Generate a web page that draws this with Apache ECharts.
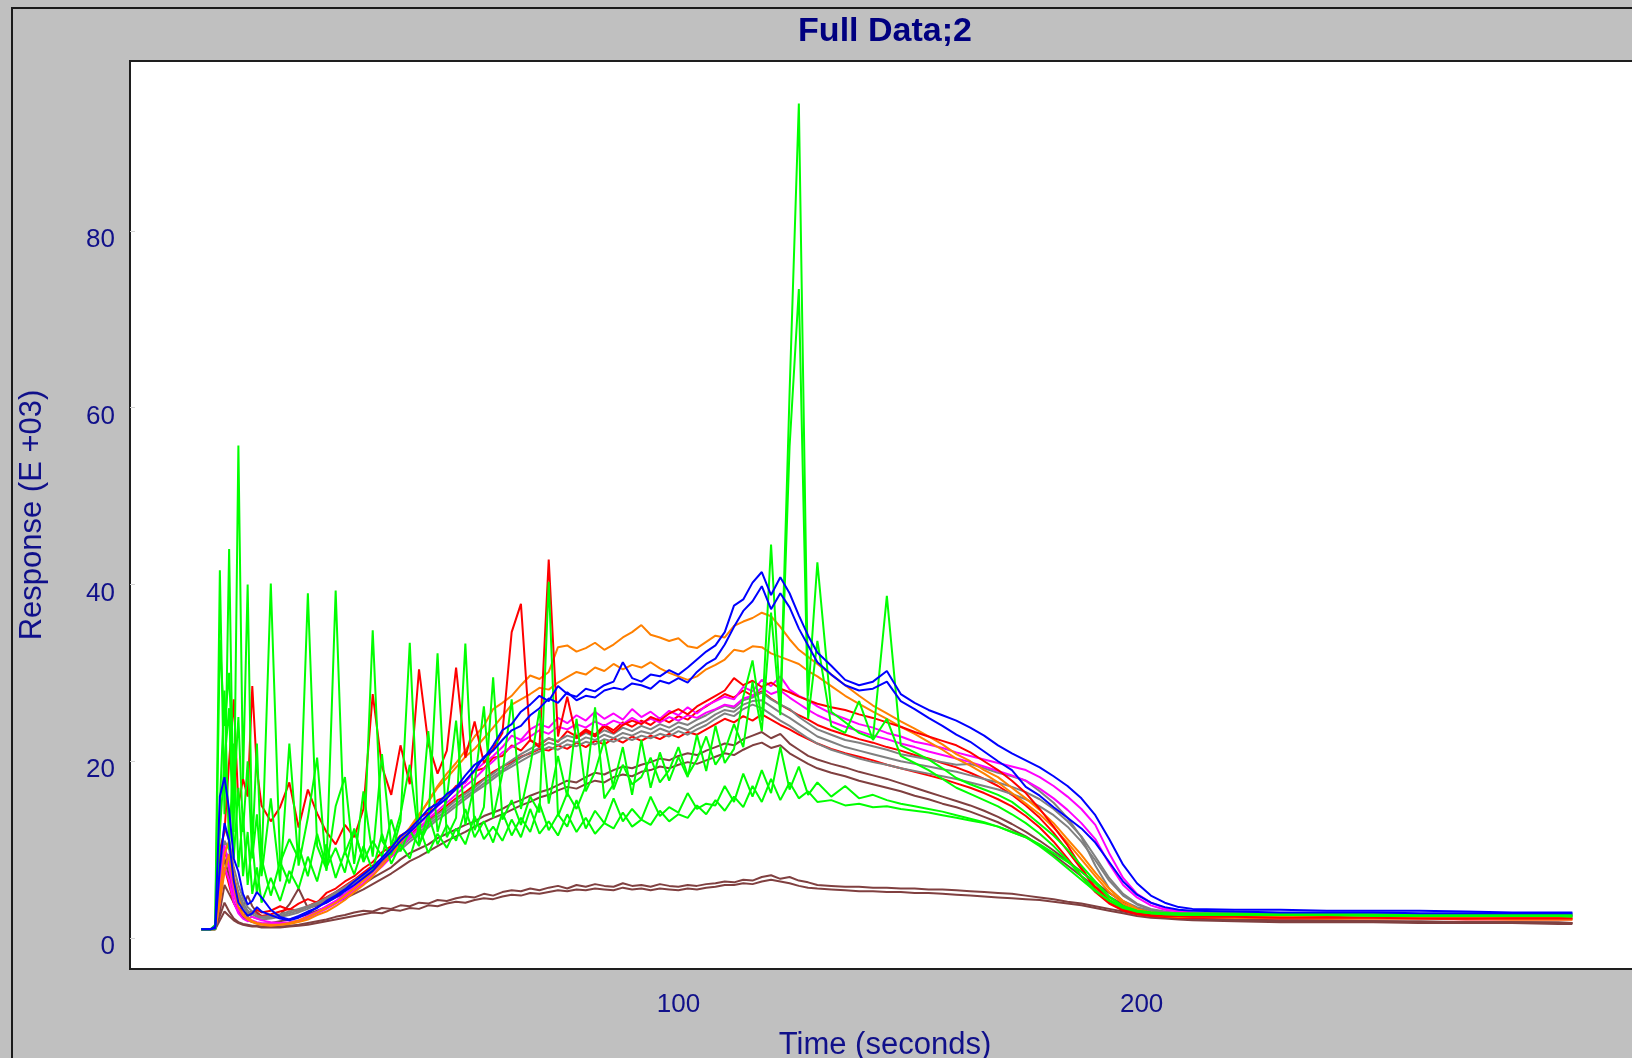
<!DOCTYPE html>
<html>
<head>
<meta charset="utf-8">
<title>Full Data;2</title>
<script src="https://cdn.jsdelivr.net/npm/echarts@6/dist/echarts.min.js"></script>
<style>
  html, body { margin: 0; padding: 0; background: #c0c0c0; }
  #chart { width: 1632px; height: 1058px; }
</style>
</head>
<body>
<div id="chart"></div>
<script>
// Sample times (seconds), shared by every trace
const times = [-3,-1,0,1,2,3,4,5,6,7,8,9,10,
  12,14,16,18,20,22,24,26,28,30,
  32,34,36,38,40,42,44,46,48,50,
  52,54,56,58,60,62,64,66,68,70,
  72,74,76,78,80,82,84,86,88,90,
  92,94,96,98,100,102,104,106,108,110,
  112,114,116,118,120,122,124,126,128,130,
  133,136,139,142,145,148,151,154,157,160,
  163,166,169,172,175,178,181,184,187,190,
  193,196,199,202,205,208,211,
  220,230,240,250,260,270,280,290,293];

// Responses (E +03)
const brownLow1 = [1.0,1.0,1.0,2.5,4,3,2.2,1.8,1.6,1.5,1.4,1.4,1.3,
  1.3,1.3,1.4,1.5,1.7,1.9,2.1,2.4,2.6,2.9,
  3.1,3.0,3.4,3.3,3.7,3.6,4.0,3.9,4.3,4.2,
  4.5,4.7,4.6,5.0,4.8,5.2,5.4,5.3,5.6,5.4,
  5.7,5.9,5.6,6.0,5.8,6.1,5.9,5.8,6.2,5.9,
  6.0,5.8,6.1,5.9,5.8,6.0,5.9,6.1,6.2,6.4,
  6.3,6.6,6.5,6.9,7.1,6.7,6.9,6.5,6.3,6.0,
  5.9,5.8,5.8,5.7,5.7,5.6,5.6,5.5,5.5,5.4,
  5.3,5.2,5.1,5.0,4.8,4.6,4.4,4.1,3.9,3.6,
  3.3,3.0,2.7,2.5,2.3,2.2,2.1,
  2.0,1.9,1.9,1.9,1.8,1.8,1.8,1.7,1.7];

const brownLow2 = [1.0,1.0,1.0,2,3,2.5,2.0,1.7,1.5,1.4,1.3,1.3,1.2,
  1.2,1.2,1.3,1.4,1.5,1.7,1.9,2.1,2.3,2.5,
  2.7,2.9,2.8,3.2,3.1,3.4,3.3,3.7,3.6,3.9,
  4.1,4.0,4.3,4.5,4.4,4.7,4.9,4.8,5.1,5.0,
  5.2,5.4,5.3,5.5,5.4,5.6,5.5,5.4,5.7,5.5,
  5.6,5.4,5.6,5.5,5.4,5.6,5.5,5.7,5.8,6.0,
  6.0,6.2,6.1,6.4,6.6,6.4,6.2,5.9,5.7,5.6,
  5.5,5.4,5.3,5.3,5.2,5.2,5.1,5.1,5.0,4.9,
  4.8,4.7,4.6,4.5,4.4,4.3,4.1,3.9,3.7,3.4,
  3.1,2.8,2.5,2.3,2.2,2.1,2.0,
  1.9,1.8,1.8,1.8,1.7,1.7,1.7,1.6,1.6];

const brownMid1 = [1.0,1.0,1.1,5,9,7,5,4,3.5,4.8,3.6,2.9,2.5,
  2.4,2.6,3.8,5.6,3.4,3.7,4.0,4.6,5.0,5.5,
  6.1,6.8,7.4,8.0,8.9,9.6,10.1,10.6,11.3,11.8,
  12.3,12.8,13.2,13.8,14.2,14.6,15.2,15.6,16.1,16.5,
  16.8,17.3,17.8,17.6,18.2,18.7,18.5,19.0,19.4,19.2,
  19.6,19.9,20.3,20.1,20.6,20.9,20.7,21.2,21.6,22.0,
  21.8,22.5,22.9,23.3,22.6,23.1,22.0,21.3,20.6,20.2,
  19.7,19.3,18.8,18.4,18.0,17.5,17.0,16.5,16.0,15.5,
  15.0,14.4,13.7,12.9,12.0,11.0,9.9,8.7,7.5,6.3,
  5.1,4.1,3.4,2.9,2.6,2.4,2.2,
  2.1,2.0,2.0,1.9,1.9,1.8,1.8,1.8,1.7];

const brownMid2 = [1.0,1.0,1.0,3,6,5,4,3,2.4,2.0,1.8,1.7,1.6,
  1.7,1.9,2.1,2.4,2.7,3.1,3.5,4.0,4.5,5.0,
  5.5,6.1,6.7,7.3,8.0,8.7,9.2,9.8,10.4,11.0,
  11.5,12.0,12.6,13.1,13.6,14.0,14.5,15.0,15.4,15.9,
  16.2,16.7,17.1,16.9,17.4,17.8,17.6,18.2,18.5,18.3,
  18.8,19.0,19.4,19.2,19.6,19.9,19.7,20.1,20.5,20.9,
  20.7,21.3,21.8,22.1,21.5,21.8,20.9,20.3,19.7,19.2,
  18.7,18.3,17.8,17.4,17.0,16.6,16.1,15.7,15.2,14.8,
  14.3,13.7,13.1,12.3,11.5,10.5,9.4,8.2,7.0,5.8,
  4.7,3.8,3.1,2.7,2.4,2.2,2.1,
  2.0,1.9,1.9,1.9,1.8,1.8,1.8,1.7,1.7];

const red1 = [1.0,1.0,1.3,10,12,20,27,15,18,16,28.5,19,15,
  13.2,14.8,17.6,12.5,16.8,14.1,12.0,10.6,12.8,11.4,
  14.6,27.6,19.4,16.2,21.8,17.4,30.4,22.0,18.6,21.2,
  30.6,20.4,24.5,19.8,21.4,23.2,34.6,37.8,22.4,21.6,
  42.8,22.8,27.3,22.6,23.4,22.8,23.9,23.2,24.1,24.6,
  24.2,25.0,24.6,25.4,25.9,25.3,26.2,26.8,27.4,28.0,
  29.4,28.6,29.1,28.4,28.9,28.2,27.8,27.3,26.9,26.5,
  26.1,25.8,25.3,24.9,24.4,23.9,23.3,22.8,22.3,21.8,
  21.0,20.0,19.0,17.8,16.4,14.6,12.6,10.5,8.0,5.5,
  4.0,3.2,2.8,2.6,2.5,2.5,2.4,
  2.4,2.3,2.3,2.3,2.2,2.2,2.2,2.2,2.2];

const red2 = [1.0,1.0,1.1,5,8,6,4,3,2.6,2.8,3.0,2.7,2.5,
  2.7,3.0,3.3,3.1,3.6,4.1,4.6,5.2,5.9,6.6,
  7.4,8.2,9.0,9.9,10.8,11.7,12.5,13.3,14.1,15.0,
  15.8,16.5,17.3,18.0,18.8,19.4,19.9,20.5,20.9,21.4,
  21.2,21.8,21.4,22.1,21.6,22.3,21.9,22.6,22.1,22.8,
  22.3,22.9,22.5,23.1,22.7,23.3,23.0,23.6,24.2,24.8,
  24.4,25.1,24.6,25.3,24.7,24.1,23.6,23.0,22.5,22.0,
  21.4,20.9,20.5,20.1,19.6,19.2,18.8,18.4,18.0,17.5,
  17.0,16.4,15.7,14.9,13.8,12.5,10.9,9.0,7.0,5.2,
  3.9,3.1,2.7,2.5,2.4,2.3,2.3,
  2.3,2.2,2.2,2.2,2.2,2.1,2.1,2.1,2.1];

const red3 = [1.0,1.0,1.2,7,10,8,5,3.5,3.0,2.6,2.8,3.2,2.9,
  3.1,3.6,3.2,3.9,4.4,4.0,5.1,5.6,6.4,7.0,
  7.9,8.6,9.7,10.4,11.6,12.2,13.6,14.2,15.6,16.0,
  17.2,17.6,18.9,19.2,20.4,20.6,21.8,21.2,22.4,21.8,
  22.6,22.2,23.4,22.8,23.6,23.0,24.1,23.5,24.4,23.9,
  24.6,24.1,24.9,24.4,25.1,24.7,25.6,26.2,26.9,27.6,
  27.2,28.0,27.4,27.9,27.1,26.4,25.8,25.2,24.7,24.1,
  23.5,23.0,22.5,22.1,21.6,21.2,20.7,20.3,19.8,19.3,
  18.7,18.0,17.2,16.2,15.0,13.6,11.9,9.9,7.8,5.8,
  4.3,3.4,2.9,2.7,2.6,2.5,2.5,
  2.4,2.4,2.4,2.3,2.3,2.3,2.3,2.3,2.3];

const gray1 = [1.0,1.0,1.2,9,12.6,11,8,6,4.5,3.5,3.0,2.6,2.4,
  2.5,2.7,3.0,3.3,3.6,4.0,4.5,5.2,5.8,6.5,
  7.2,8.0,8.9,9.7,10.6,11.5,12.3,13.1,14.0,14.7,
  15.6,16.3,17.0,17.9,18.6,19.4,20.1,20.8,21.4,22.0,
  22.6,22.3,22.9,22.6,23.2,22.8,23.5,23.1,23.8,23.4,
  24.0,23.6,24.2,23.8,24.4,24.1,24.7,25.2,25.8,26.3,
  26.0,26.9,27.2,27.8,27.0,26.4,25.9,25.0,24.3,23.6,
  23.0,22.4,22.1,21.7,21.3,20.8,20.5,20.2,19.9,19.6,
  19.7,19.2,18.7,18.3,17.8,16.6,15.3,13.6,11.4,8.2,
  5.6,4.2,3.5,3.1,2.9,2.8,2.8,
  2.8,2.8,2.8,2.8,2.7,2.7,2.7,2.7,2.7];

const gray2 = [1.0,1.0,1.1,6,10,9,6.5,4.8,3.6,2.8,2.4,2.2,2.1,
  2.2,2.4,2.6,2.9,3.3,3.8,4.3,4.9,5.5,6.2,
  6.9,7.6,8.4,9.2,10.0,10.9,11.7,12.5,13.4,14.1,
  14.9,15.7,16.5,17.2,18.0,18.8,19.4,20.0,20.6,21.1,
  21.6,21.3,21.9,21.7,22.2,21.9,22.5,22.2,22.7,22.4,
  22.9,22.6,23.1,22.8,23.4,23.0,23.6,24.1,24.8,25.4,
  25.1,25.9,26.4,26.0,25.3,24.6,24.0,23.3,22.6,22.0,
  21.3,20.8,20.3,19.9,19.6,19.2,18.9,18.6,18.3,18.0,
  17.6,17.2,16.8,16.3,15.7,14.9,13.9,12.6,10.9,8.8,
  6.5,4.8,3.8,3.2,2.9,2.8,2.7,
  2.7,2.7,2.7,2.7,2.7,2.6,2.6,2.6,2.6];

const gray3 = [1.0,1.0,1.1,7,11,10,7,5.2,4.0,3.1,2.7,2.4,2.3,
  2.3,2.5,2.8,3.1,3.5,3.9,4.4,5.0,5.6,6.3,
  7.0,7.8,8.6,9.5,10.3,11.2,12.0,12.8,13.7,14.4,
  15.2,16.0,16.7,17.5,18.3,19.0,19.7,20.4,21.0,21.5,
  22.1,21.8,22.4,22.1,22.7,22.4,23.0,22.6,23.2,22.9,
  23.4,23.1,23.7,23.3,23.9,23.5,24.1,24.6,25.3,25.8,
  25.6,26.4,26.8,26.9,26.2,25.5,24.9,24.2,23.5,22.8,
  22.2,21.6,21.2,20.8,20.4,20.0,19.7,19.4,19.1,18.8,
  18.4,18.0,17.6,17.1,16.5,15.7,14.6,13.2,11.5,9.2,
  6.8,5.0,3.9,3.3,3.0,2.8,2.7,
  2.7,2.7,2.7,2.7,2.7,2.6,2.6,2.6,2.6];

const magenta1 = [1.0,1.0,1.1,6,10.5,8,5,3.2,2.6,2.2,2.4,2.2,2.0,
  1.8,1.7,1.8,2.0,2.5,3.0,3.6,4.2,5.0,5.8,
  6.6,7.5,8.5,9.6,10.8,11.8,12.9,13.8,14.9,15.9,
  16.8,17.6,18.9,19.8,20.6,21.6,22.9,22.4,23.6,24.2,
  23.8,24.9,24.3,25.2,24.6,25.6,24.8,25.4,24.7,25.9,
  25.0,25.6,24.8,25.7,25.2,26.1,25.4,26.3,26.8,27.3,
  27.0,28.4,27.9,29.2,28.5,29.6,28.1,27.4,26.9,26.2,
  25.4,24.8,24.2,23.8,23.2,22.8,22.2,21.9,21.5,21.0,
  20.6,20.2,19.8,19.4,19.0,18.2,17.2,16.0,14.6,12.8,
  9.6,6.8,5.0,4.0,3.4,3.1,2.9,
  2.8,2.8,2.7,2.7,2.7,2.7,2.6,2.6,2.6];

const magenta2 = [1.0,1.0,1.0,4,8,6.5,4,2.8,2.2,1.9,2.0,1.8,1.7,
  1.6,1.6,1.7,1.9,2.3,2.8,3.3,3.9,4.6,5.4,
  6.2,7.2,8.1,9.2,10.3,11.4,12.4,13.5,14.4,15.3,
  16.2,17.2,18.0,19.1,20.0,21.0,21.6,22.2,22.8,23.5,
  23.1,23.9,23.6,24.2,23.8,24.5,24.0,24.6,24.2,24.9,
  24.3,24.8,24.4,25.0,24.6,25.2,24.9,25.5,25.9,26.4,
  26.2,27.1,27.4,28.3,27.6,28.0,27.2,26.5,25.8,25.2,
  24.5,23.9,23.4,22.9,22.5,22.0,21.6,21.1,20.7,20.3,
  19.9,19.4,18.9,18.4,17.8,16.9,15.8,14.5,13.0,11.2,
  8.4,6.0,4.6,3.7,3.2,3.0,2.8,
  2.7,2.7,2.7,2.6,2.6,2.6,2.6,2.5,2.5];

const orange1 = [1.0,1.0,1.1,5,9.5,11,7,4.5,3.0,2.4,1.9,1.7,1.6,
  1.5,1.5,1.6,1.8,2.1,2.6,3.0,3.6,4.3,5.2,
  6.0,7.0,8.2,9.4,10.8,12.2,13.8,15.5,17.2,18.6,
  19.8,21.2,22.8,24.0,25.9,26.6,27.4,28.6,29.7,29.3,
  30.1,32.9,33.1,32.4,32.8,33.4,32.6,33.2,34.0,34.6,
  35.4,34.3,34.0,33.6,33.9,33.0,32.8,33.5,34.2,34.0,
  35.3,35.8,36.2,36.8,36.4,35.2,33.8,32.6,31.8,31.0,
  29.8,28.6,27.4,26.3,25.4,24.5,23.7,22.8,21.9,20.8,
  20.0,19.0,18.2,17.0,15.8,14.5,13.0,11.2,9.4,7.4,
  5.6,4.2,3.3,2.9,2.7,2.6,2.5,
  2.4,2.4,2.3,2.3,2.3,2.3,2.2,2.2,2.2];

const orange2 = [1.0,1.0,1.0,4,7.5,9.5,6,3.5,2.6,2.1,1.8,1.6,1.5,
  1.4,1.5,1.7,2.0,2.4,2.9,3.4,4.0,4.8,5.6,
  6.5,7.5,8.6,9.8,11.2,12.5,14.0,15.4,17.0,18.1,
  19.3,20.5,21.4,22.6,23.8,25.1,26.4,27.0,27.6,28.3,
  28.1,28.9,29.5,30.1,29.8,30.6,30.2,31.0,30.4,30.9,
  30.6,31.2,30.5,30.0,29.6,29.2,29.6,30.4,30.9,31.5,
  32.6,32.4,33.0,32.9,32.2,31.8,31.4,31.0,30.2,29.6,
  28.5,27.4,26.5,25.6,24.8,23.9,23.1,22.2,21.3,20.3,
  19.5,18.6,17.6,16.4,15.2,14.0,12.5,10.8,8.9,7.0,
  5.2,3.9,3.1,2.7,2.5,2.4,2.4,
  2.3,2.3,2.2,2.2,2.2,2.2,2.1,2.1,2.1];

const blue1 = [1.0,1.0,1.3,16,18.2,14.5,9,7.5,5,3.8,4.2,5.2,4.6,
  3.2,2.4,2.1,2.5,3.0,3.4,4.2,4.8,5.5,6.4,
  7.2,8.0,9.1,10.2,11.5,12.3,13.4,14.6,15.2,16.3,
  17.0,18.4,19.6,20.3,21.8,23.5,24.2,25.6,26.4,27.4,
  26.8,28.5,27.6,27.3,28.2,27.9,28.6,29.0,31.2,29.4,
  29.0,29.8,29.6,30.3,29.8,30.6,31.5,32.4,33.1,34.6,
  37.6,38.3,40.2,41.4,38.8,40.8,39.0,36.5,34.2,32.3,
  30.8,29.2,28.6,29.0,30.2,27.6,26.6,25.8,25.2,24.6,
  23.8,22.9,21.8,20.9,20.1,19.3,18.3,17.2,15.8,13.9,
  11.2,8.3,6.2,4.8,4.0,3.5,3.3,
  3.2,3.2,3.1,3.1,3.1,3.0,2.9,2.9,2.9];

const blue2 = [1.0,1.0,1.1,8,13,11,6.5,4,3.2,2.5,2.8,3.5,3.0,
  2.6,2.2,2.0,2.3,2.8,3.5,4.0,4.6,5.3,6.0,
  6.8,7.6,8.8,9.8,11.0,12.0,13.0,14.0,15.0,15.8,
  16.9,17.8,19.0,20.5,21.2,22.4,23.5,24.0,25.2,26.0,
  27.1,26.6,27.8,26.9,27.4,27.2,28.0,28.3,28.1,28.8,
  28.6,28.2,29.1,28.8,29.4,28.9,30.1,31.0,31.6,33.2,
  35.2,37.0,38.1,39.8,37.2,39.0,37.4,35.0,33.1,31.2,
  29.8,28.6,28.0,28.2,29.0,26.8,25.9,24.9,24.0,23.0,
  22.2,21.1,20.0,19.0,17.1,16.1,14.8,13.6,12.4,10.8,
  8.6,6.4,4.9,4.0,3.5,3.2,3.1,
  3.0,2.9,2.9,2.9,2.8,2.8,2.8,2.8,2.8];

const green1 = [1.0,1.0,1.5,41.6,14,44,12,55.7,18,40,10,22,8,
  40.1,8.5,11.2,9.0,39.0,10.4,7.8,39.3,9.6,12.2,
  8.8,34.8,11.0,9.4,13.2,33.4,10.6,12.8,32.2,11.4,
  13.6,33.3,12.2,14.8,29.5,13.4,15.6,12.8,16.0,14.2,
  40.3,13.8,16.4,14.6,17.2,26.1,15.8,17.4,21.6,16.2,
  22.4,17.0,21.0,17.8,20.5,18.2,23.0,18.9,24.0,19.8,
  21.4,27.3,31.4,24.6,44.5,26.0,61.7,94.4,27.4,42.5,
  25.6,24.4,23.2,22.6,38.7,21.8,21.0,20.2,19.2,18.1,
  17.4,16.8,16.2,15.4,14.2,12.9,11.6,10.0,8.2,6.4,
  4.7,3.6,3.1,2.9,2.8,2.8,2.8,
  2.8,2.8,2.8,2.7,2.7,2.7,2.7,2.7,2.7];

const green2 = [1.0,1.0,1.2,33.7,24,30,16,25,12,20,9,14,7,
  15.8,6.4,22.0,8.2,13.6,20.4,7.6,14.9,18.2,8.4,
  16.6,9.2,20.8,10.4,14.0,19.6,11.2,23.4,12.0,15.8,
  24.6,12.8,17.4,26.2,13.6,18.6,27.0,14.6,19.4,25.8,
  15.2,20.6,16.0,24.8,16.6,18.8,22.4,16.8,19.6,17.4,
  18.2,20.4,17.6,19.0,21.6,18.4,20.2,22.8,19.6,21.2,
  24.2,21.6,29.0,23.4,36.8,25.2,55.6,73.4,24.8,33.6,
  24.0,23.2,26.8,22.4,24.8,20.6,19.8,19.0,18.0,17.0,
  16.3,15.6,14.9,14.0,13.0,11.8,10.4,8.8,7.0,5.4,
  4.2,3.4,3.0,2.8,2.7,2.7,2.7,
  2.7,2.7,2.6,2.6,2.6,2.6,2.6,2.6,2.5];

const green3 = [1.0,1.0,1.1,15,28,10,22,8,14,6,11,5,9,
  4.8,8.6,6.2,10.4,7.0,11.8,8.0,10.2,7.4,12.4,
  8.6,11.0,9.2,13.4,9.8,12.2,10.4,14.0,10.6,12.8,
  11.0,14.6,11.4,13.2,10.8,14.2,11.6,13.6,12.0,15.2,
  12.2,14.0,12.6,15.6,12.4,14.4,13.0,15.8,13.2,14.6,
  13.4,16.0,13.8,14.8,14.2,16.4,14.6,15.2,15.0,17.2,
  15.4,18.6,16.0,19.0,16.4,21.6,16.8,19.4,16.2,17.6,
  16.0,17.2,15.8,16.2,15.6,15.2,14.9,14.6,14.3,13.9,
  13.5,13.1,12.6,12.0,11.4,10.6,9.6,8.6,7.5,6.2,
  4.6,3.6,3.1,2.9,2.8,2.7,2.7,
  2.7,2.6,2.6,2.6,2.6,2.5,2.5,2.5,2.5];

const green4 = [1.0,1.0,1.0,12,20,26,9,17,7,12,5,8,4,
  6.8,4.2,7.6,5.6,9.2,6.4,10.6,6.8,9.8,7.2,
  10.4,7.6,11.8,8.4,10.6,9.0,12.6,9.6,11.8,10.2,
  12.4,10.6,13.8,11.2,12.6,11.0,13.4,11.4,14.6,11.8,
  13.2,11.6,14.0,12.0,13.6,11.8,13.0,12.4,14.2,12.6,
  13.4,12.8,14.4,13.2,14.0,13.6,15.0,14.0,15.6,14.4,
  16.0,14.8,17.2,15.4,18.0,15.6,17.6,15.8,16.6,15.4,
  15.6,15.0,15.2,14.8,14.9,14.6,14.4,14.2,13.9,13.6,
  13.3,13.0,12.6,12.0,11.4,10.4,9.2,7.9,6.6,5.3,
  4.3,3.5,3.0,2.8,2.7,2.6,2.6,
  2.6,2.6,2.6,2.5,2.5,2.5,2.5,2.5,2.4];

// Axis tick values
const yTickValues = [0, 20, 40, 60, 80];
const xTickValues = [100, 200];

// Trace order = drawing order (later ones on top)
const traces = [
  ['Brown A', '#804040', brownLow1],
  ['Brown B', '#804040', brownLow2],
  ['Brown C', '#804040', brownMid1],
  ['Brown D', '#804040', brownMid2],
  ['Red B', '#ff0000', red2],
  ['Red C', '#ff0000', red3],
  ['Gray A', '#808080', gray1],
  ['Gray B', '#808080', gray2],
  ['Gray C', '#808080', gray3],
  ['Magenta A', '#ff00ff', magenta1],
  ['Magenta B', '#ff00ff', magenta2],
  ['Orange A', '#ff8000', orange1],
  ['Orange B', '#ff8000', orange2],
  ['Red A', '#ff0000', red1],
  ['Green C', '#00ff00', green3],
  ['Green D', '#00ff00', green4],
  ['Green B', '#00ff00', green2],
  ['Green A', '#00ff00', green1],
  ['Blue B', '#0000ff', blue2],
  ['Blue A', '#0000ff', blue1]
];

const navy = '#10108a';
const fontFam = '"Liberation Sans", Arial, sans-serif';

const series = traces.map(([name, color, vals], k) => {
  const n = Math.min(times.length, vals.length);
  const data = [];
  for (let i = 0; i < n; i++) data.push([times[i], vals[i]]);
  return {
    name: name,
    type: 'line',
    data: data,
    symbol: 'none',
    showSymbol: false,
    smooth: false,
    lineStyle: { color: color, width: 2 },
    itemStyle: { color: color },
    emphasis: { disabled: true },
    z: 2 + k * 0.01
  };
});

const chart = echarts.init(document.getElementById('chart'), null, { renderer: 'canvas' });
chart.setOption({
  backgroundColor: '#c0c0c0',
  animation: false,
  title: {
    text: 'Full Data;2',
    left: 885,
    top: 15,
    textAlign: 'center',
    padding: 0,
    textStyle: { color: '#000080', fontSize: 34, fontWeight: 'bold', fontFamily: fontFam }
  },
  grid: {
    left: 130, top: 61, right: -8, bottom: 89,
    outerBoundsMode: 'none',
    containLabel: false,
    show: true,
    backgroundColor: '#ffffff',
    borderColor: '#1e1e1e',
    borderWidth: 2
  },
  xAxis: {
    type: 'value',
    min: -18.4,
    max: 307.6,
    name: 'Time (seconds)',
    nameLocation: 'middle',
    nameGap: 61,
    nameTextStyle: { color: navy, fontSize: 31, fontFamily: fontFam },
    axisLine: { show: false, onZero: false },
    axisTick: { show: false, customValues: xTickValues },
    splitLine: { show: false },
    axisLabel: {
      customValues: xTickValues,
      color: navy,
      fontSize: 26,
      fontFamily: fontFam,
      margin: 23
    }
  },
  yAxis: {
    type: 'value',
    min: -3.5,
    max: 99.2,
    name: 'Response (E +03)',
    nameLocation: 'middle',
    nameGap: 82,
    nameTextStyle: { color: navy, fontSize: 31, fontFamily: fontFam },
    axisLine: { show: false, onZero: false },
    axisTick: {
      show: true,
      inside: true,
      length: 5,
      customValues: yTickValues,
      lineStyle: { color: '#d4d4d4', width: 1 }
    },
    splitLine: { show: false },
    axisLabel: {
      customValues: yTickValues,
      color: navy,
      fontSize: 26,
      fontFamily: fontFam,
      margin: 15,
      verticalAlign: 'top',
      lineHeight: 18
    }
  },
  graphic: [{
    type: 'rect',
    silent: true,
    z: 100,
    shape: { x: 12, y: 8, width: 1700, height: 1200 },
    style: { fill: 'none', stroke: '#1a1a1a', lineWidth: 2 }
  }],
  series: series
});
</script>
</body>
</html>
